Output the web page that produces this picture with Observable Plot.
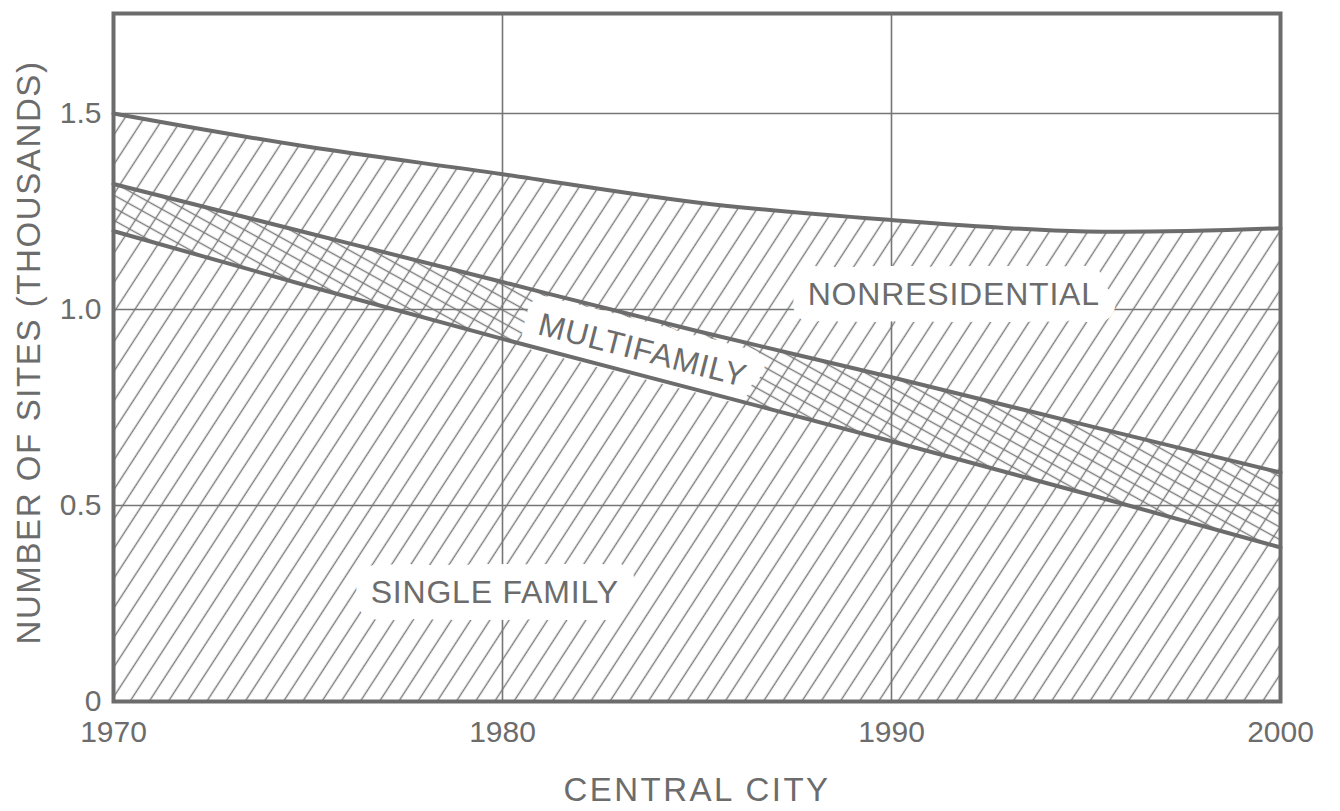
<!DOCTYPE html>
<html>
<head>
<meta charset="utf-8">
<script src="https://cdn.jsdelivr.net/npm/d3@7"></script>
<script src="https://cdn.jsdelivr.net/npm/@observablehq/plot@0.6"></script>
<style>
  html, body { margin: 0; padding: 0; background: #ffffff; }
  #chart svg { display: block; }
</style>
</head>
<body>
<div id="chart"></div>
<script>
// ---- data ----
const years          = [1970, 1975, 1980, 1985, 1990, 1995, 2000];
const nonresidential = [1.500, 1.415, 1.345, 1.273, 1.228, 1.199, 1.207]; // top of the stack
const multifamily    = [1.320, 1.195, 1.070, 0.945, 0.827, 0.705, 0.584]; // top of multifamily band
const singleFamily   = [1.200, 1.060, 0.925, 0.795, 0.664, 0.530, 0.393]; // top of single family
const xTicks = [1970, 1980, 1990, 2000];
const yTicks = [0, 0.5, 1.0, 1.5];
const xGrid = [1980, 1990];
const yGrid = [0.5, 1.0, 1.5];
const labelNames  = ["NONRESIDENTIAL", "MULTIFAMILY", "SINGLE FAMILY"];
const labelYears  = [1991.6, 1983.6, 1979.8];
const labelValues = [1.038, 0.895, 0.278];
const labelAngles = [0, 14.4, 0];
const xTitle = "CENTRAL CITY";
const yTitle = "NUMBER OF SITES (THOUSANDS)";

// ---- tables built from the arrays ----
const rows = years.map((year, i) => ({
  year, top: nonresidential[i], multi: multifamily[i], single: singleFamily[i]
}));
const labels = labelNames.map((name, i) => ({
  name, year: labelYears[i], value: labelValues[i], angle: labelAngles[i]
}));

const ink = "#6c6c6c";
const gridInk = "#767676";
const hatchInk = "#7a7a7a";
const font = "Liberation Sans, Arial, sans-serif";
const curve = "natural";

const labelMarks = (halo) => labels.map(l => Plot.text([l], {
  x: "year", y: "value", text: "name", rotate: l.angle,
  fontSize: 32, fontFamily: font,
  fill: halo ? "white" : ink,
  stroke: halo ? "white" : "none",
  strokeWidth: halo ? 34 : 0,
  strokeLinejoin: "round"
}));

const svg = Plot.plot({
  width: 1340,
  height: 811,
  marginLeft: 113,
  marginRight: 60,
  marginTop: 13,
  marginBottom: 110,
  style: { fontFamily: font, fontSize: "30px", color: ink, background: "white" },
  x: { domain: [1970, 2000], ticks: xTicks, tickFormat: d => String(d), tickSize: 0, tickPadding: 19, label: null },
  y: { domain: [0, 1.755], ticks: yTicks, tickFormat: d => d === 0 ? "0" : d.toFixed(1), tickSize: 0, tickPadding: 12, label: null },
  marks: [
    Plot.areaY(rows, { x: "year", y1: 0, y2: "top", curve, fill: "url(#hatchA)" }),
    Plot.areaY(rows, { x: "year", y1: "single", y2: "multi", curve, fill: "url(#hatchB)" }),
    Plot.ruleY(yGrid, { stroke: gridInk, strokeWidth: 1.6 }),
    Plot.ruleX(xGrid, { stroke: gridInk, strokeWidth: 1.6 }),
    ...labelMarks(true),
    Plot.line(rows, { x: "year", y: "top", curve, stroke: ink, strokeWidth: 4 }),
    Plot.line(rows, { x: "year", y: "multi", curve, stroke: ink, strokeWidth: 4 }),
    Plot.line(rows, { x: "year", y: "single", curve, stroke: ink, strokeWidth: 4 }),
    Plot.frame({ stroke: ink, strokeWidth: 4 }),
    ...labelMarks(false),
    Plot.text([yTitle], { frameAnchor: "left", textAnchor: "middle", lineAnchor: "middle", text: d => d, rotate: -90, dx: -84, dy: -5, fontSize: 33, fontFamily: font, fill: ink }),
    Plot.text([xTitle], { frameAnchor: "bottom", textAnchor: "middle", lineAnchor: "middle", text: d => d, dy: 89, fontSize: 33, fontFamily: font, fill: ink })
  ]
});

// letter spacing (lettering in the original is loosely spaced)
const spacing = new Map([[yTitle, 1.6], [xTitle, 2.5], ...labelNames.map(n => [n, 0.8])]);
d3.select(svg).selectAll("text").each(function () {
  const s = spacing.get(this.textContent);
  if (s != null) this.setAttribute("letter-spacing", s);
});

// hatching patterns
const defs = d3.select(svg).insert("defs", ":first-child");
const pA = defs.append("pattern")
  .attr("id", "hatchA").attr("patternUnits", "userSpaceOnUse")
  .attr("width", 16.1).attr("height", 16.1)
  .attr("patternTransform", "rotate(33)");
pA.append("line").attr("x1", 8).attr("y1", -2).attr("x2", 8).attr("y2", 18.1)
  .attr("stroke", hatchInk).attr("stroke-width", 1.4);
const pB = defs.append("pattern")
  .attr("id", "hatchB").attr("patternUnits", "userSpaceOnUse")
  .attr("width", 11).attr("height", 11)
  .attr("patternTransform", "rotate(29)");
pB.append("line").attr("x1", -2).attr("y1", 5.5).attr("x2", 13).attr("y2", 5.5)
  .attr("stroke", hatchInk).attr("stroke-width", 1.4);

document.getElementById("chart").appendChild(svg);
</script>
</body>
</html>
